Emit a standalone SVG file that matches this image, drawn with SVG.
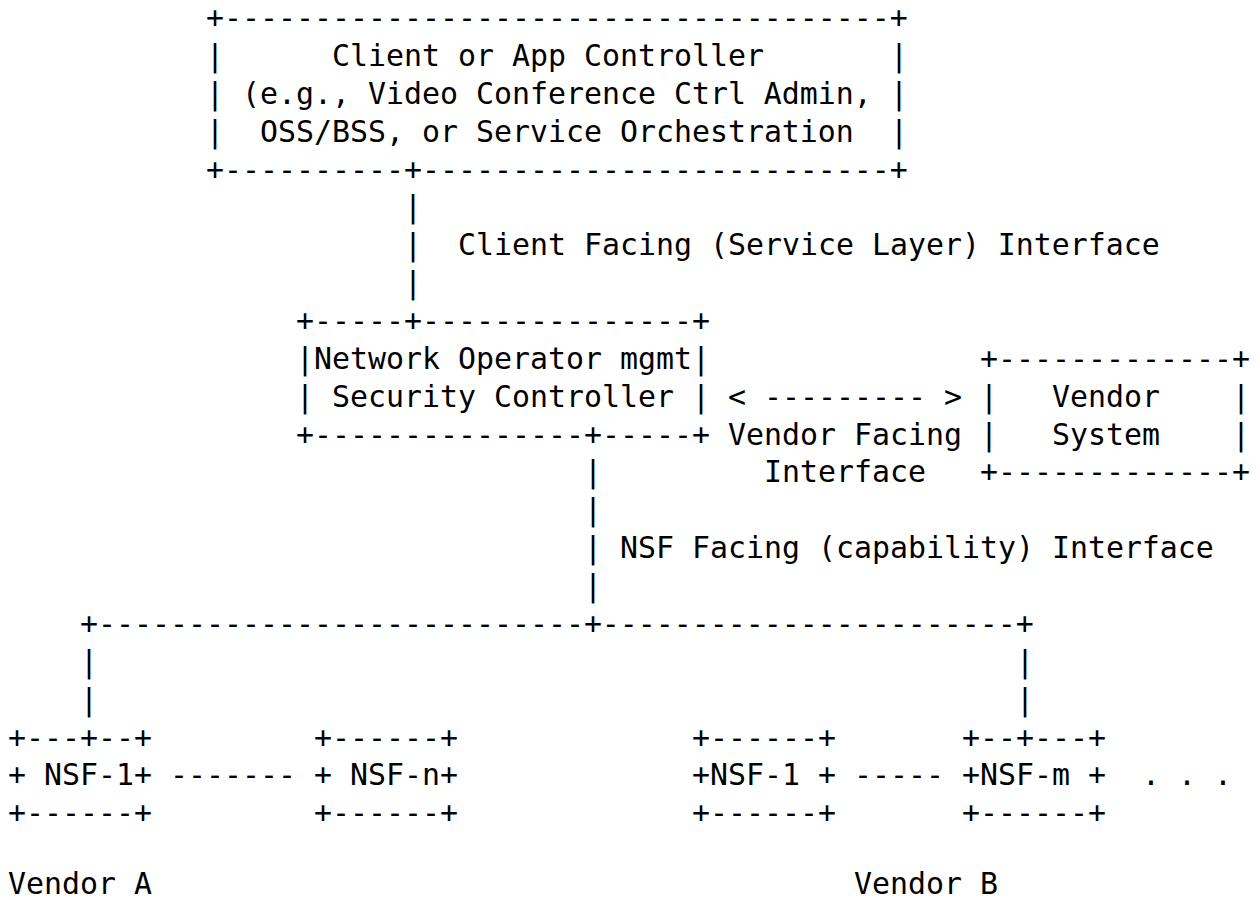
<svg xmlns="http://www.w3.org/2000/svg" width="1260" height="900" viewBox="0 0 1260 900">
  <style>
    text { font-family: "DejaVu Sans Mono", "Liberation Mono", monospace; font-size: 29.9px; fill: #000; }
  </style>
  <rect width="1260" height="900" fill="#fff"/>

  <!-- character grid: column c starts at x = 8 + 18c, row r baseline at y = 28 + 37.87r -->

  <g id="client-controller">
    <text x="206" y="28">+-------------------------------------+</text>
    <text x="206" y="65.9">|</text>
    <text x="332" y="65.9">Client or App Controller</text>
    <text x="890" y="65.9">|</text>
    <text x="206" y="103.7">|</text>
    <text x="242" y="103.7">(e.g., Video Conference Ctrl Admin,</text>
    <text x="890" y="103.7">|</text>
    <text x="206" y="141.6">|</text>
    <text x="260" y="141.6">OSS/BSS, or Service Orchestration</text>
    <text x="890" y="141.6">|</text>
    <text x="206" y="179.5">+----------+--------------------------+</text>
  </g>

  <g id="security-controller">
    <text x="296" y="331">+-----+---------------+</text>
    <text x="296" y="368.8">|Network Operator mgmt|</text>
    <text x="296" y="406.7">|</text>
    <text x="332" y="406.7">Security Controller</text>
    <text x="692" y="406.7">|</text>
    <text x="296" y="444.6">+---------------+-----+</text>
  </g>

  <g id="vendor-system">
    <text x="980" y="368.8">+-------------+</text>
    <text x="980" y="406.7">|</text>
    <text x="1052" y="406.7">Vendor</text>
    <text x="1232" y="406.7">|</text>
    <text x="980" y="444.6">|</text>
    <text x="1052" y="444.6">System</text>
    <text x="1232" y="444.6">|</text>
    <text x="980" y="482.4">+-------------+</text>
  </g>

  <g id="nsf-1-a">
    <text x="8" y="747.5">+---+--+</text>
    <text x="8" y="785.4">+</text>
    <text x="44" y="785.4">NSF-1+</text>
    <text x="8" y="823.3">+------+</text>
  </g>

  <g id="nsf-n">
    <text x="314" y="747.5">+------+</text>
    <text x="314" y="785.4">+</text>
    <text x="350" y="785.4">NSF-n+</text>
    <text x="314" y="823.3">+------+</text>
  </g>

  <g id="nsf-1-b">
    <text x="692" y="747.5">+------+</text>
    <text x="692" y="785.4">+NSF-1</text>
    <text x="818" y="785.4">+</text>
    <text x="692" y="823.3">+------+</text>
  </g>

  <g id="nsf-m">
    <text x="962" y="747.5">+--+---+</text>
    <text x="962" y="785.4">+NSF-m</text>
    <text x="1088" y="785.4">+</text>
    <text x="962" y="823.3">+------+</text>
  </g>

  <g id="more-nsfs">
    <text x="1142" y="785.4">. . .</text>
  </g>

  <g id="vendor-labels">
    <text x="8" y="894">Vendor A</text>
    <text x="854" y="894">Vendor B</text>
  </g>

  <g id="connectors">
    <!-- client facing interface -->
    <text x="404" y="217.4">|</text>
    <text x="404" y="255.2">|</text>
    <text x="458" y="255.2">Client Facing (Service Layer) Interface</text>
    <text x="404" y="293.1">|</text>

    <!-- vendor facing interface -->
    <text x="728" y="406.7">&lt; --------- &gt;</text>
    <text x="728" y="444.6">Vendor Facing</text>
    <text x="764" y="482.4">Interface</text>

    <!-- NSF facing interface -->
    <text x="584" y="482.4">|</text>
    <text x="584" y="520.3">|</text>
    <text x="584" y="558.2">|</text>
    <text x="620" y="558.2">NSF Facing (capability) Interface</text>
    <text x="584" y="596.1">|</text>

    <!-- distribution bus to the NSFs -->
    <text x="80" y="633.9">+---------------------------+-----------------------+</text>
    <text x="80" y="671.8">|</text>
    <text x="1016" y="671.8">|</text>
    <text x="80" y="709.7">|</text>
    <text x="1016" y="709.7">|</text>

    <!-- links between NSFs of one vendor -->
    <text x="170" y="785.4">-------</text>
    <text x="854" y="785.4">-----</text>
  </g>
</svg>
